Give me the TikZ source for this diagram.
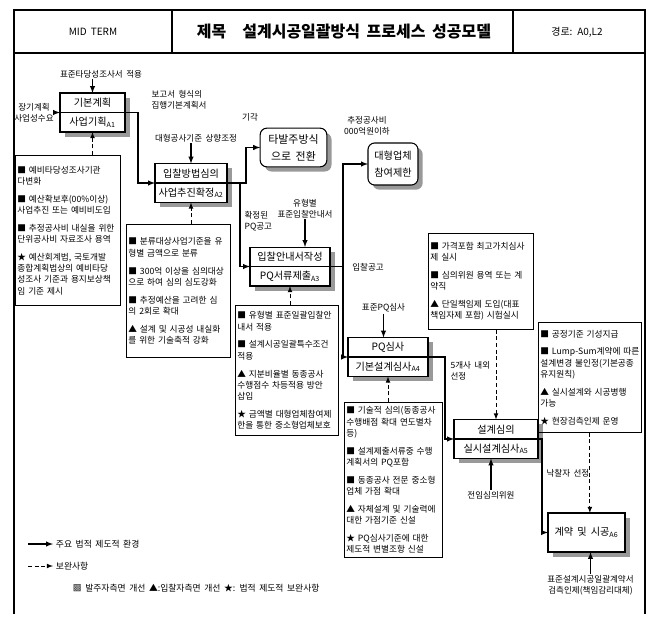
\documentclass[tikz,border=0pt]{standalone}
\usepackage{fontspec}
\setmainfont[WordSpace=1.8]{Noto Sans CJK KR}
\usetikzlibrary{arrows,positioning,shadows}

\newcommand{\procfnt}{\fontsize{7.6}{9}\selectfont}
\newcommand{\notefnt}{\fontsize{6.5}{8.4}\selectfont}
\newcommand{\labfnt}{\fontsize{6.4}{8.2}\selectfont}

\tikzset{
  proc/.style={draw, fill=white, line width=0.8pt, outer sep=0pt, inner sep=1pt,
    minimum height=14.6pt, font=\procfnt,
    drop shadow={shadow xshift=3.5pt, shadow yshift=-3.5pt, fill=black!40, opacity=1}},
  rproc/.style={proc, rounded corners=5pt, align=center},
  note/.style={draw, line width=0.6pt, anchor=north west, align=left,
    inner xsep=1.5pt, inner ysep=2pt, font=\notefnt},
  lab/.style={font=\labfnt, align=center, inner sep=1pt},
  key/.style={font=\fontsize{6.6}{8}\selectfont, inner sep=2pt, anchor=west},
  flow/.style={->, line width=0.8pt},
  aux/.style={->, densely dashed, line width=0.6pt},
}

\begin{document}
\begin{tikzpicture}[x=0.75pt, y=-0.75pt, >=latex]
\useasboundingbox (0,0) rectangle (653,617);

% frame and header
\draw[line width=0.8pt] (14,614) -- (14,10) -- (645,10) -- (645,614);
\draw[line width=0.8pt] (14,53) -- (645,53);
\draw[line width=0.8pt] (172,10) -- (172,53) (513,10) -- (513,53);
\node[font=\fontsize{7.5}{9}\selectfont] (term) at (93,32) {MID TERM};
\node[font={\fontsize{12}{14}\selectfont\bfseries}] (title) at (344,32) {제목\quad 설계시공일괄방식 프로세스 성공모델};
\node[font=\fontsize{7.5}{9}\selectfont] (route) at (577,32) {경로: A0,L2};

% process boxes
\node[proc, minimum width=48.75pt, anchor=south] (a1) at (92.5,112.5) {기본계획};
\node[proc, minimum width=48.75pt, below=0pt of a1] (a1s) {사업기획\textsubscript{A1}};
\node[proc, minimum width=54pt, anchor=south] (a2) at (191,183) {입찰방법심의};
\node[proc, minimum width=54pt, below=0pt of a2] (a2s) {사업추진확정\textsubscript{A2}};
\node[proc, minimum width=60pt, anchor=south] (a3) at (290,266.5) {입찰안내서작성};
\node[proc, minimum width=60pt, below=0pt of a3] (a3s) {PQ서류제출\textsubscript{A3}};
\node[proc, minimum width=60pt, anchor=south] (pq) at (388,357) {PQ심사};
\node[proc, minimum width=60pt, below=0pt of pq] (pqs) {기본설계심사\textsubscript{A4}};
\node[proc, minimum width=63pt, anchor=south] (a5) at (496,439) {설계심의};
\node[proc, minimum width=63pt, below=0pt of a5] (a5s) {실시설계심사\textsubscript{A5}};
\node[proc, minimum width=57.75pt, minimum height=29.25pt] (a6) at (586.5,532.5) {계약 및 시공\textsubscript{A6}};

\node[rproc, minimum width=50pt, minimum height=29pt, font=\fontsize{8.2}{13}\selectfont] (tk) at (293.5,147.5) {타발주방식\\으로 전환};
\node[rproc, minimum width=37.5pt, minimum height=31.5pt, font=\fontsize{7.6}{13}\selectfont] (lim) at (393,164) {대형업체\\참여제한};

% notes
\node[note, text width=75.7pt, minimum height=112.5pt] (n1) at (15,155) {■ 예비타당성조사기관\\다변화\\[5pt]
■ 예산확보후(00\%이상)\\사업추진 또는 예비비도입\\[5pt]
■ 추정공사비 내실을 위한\\단위공사비 자료조사 용역\\[5pt]
★ 예산회계법, 국토개발\\종합계획법상의 예비타당\\성조사 기준과 용지보상책\\임 기준 제시};
\node[note, text width=75pt, minimum height=99.75pt] (n2) at (126,224) {■ 분류대상사업기준을 유\\형별 금액으로 분류\\[5pt]
■ 300억 이상을 심의대상\\으로 하여 심의 심도강화\\[5pt]
■ 추정예산을 고려한 심\\의 2회로 확대\\[5pt]
▲ 설계 및 시공성 내실화\\를 위한 기술축적 강화};
\node[note, text width=74.2pt, minimum height=97.5pt] (n3) at (235,305) {■ 유형별 표준일괄입찰안\\내서 적용\\[5pt]
■ 설계시공일괄특수조건\\적용\\[5pt]
▲ 지분비율별 동종공사\\수행점수 차등적용 방안\\삽입\\[5pt]
★ 금액별 대형업체참여제\\한을 통한 중소형업체보호};
\node[note, text width=70.5pt, minimum height=116.25pt] (n4) at (344,402) {■ 기술적 심의(동종공사\\수행배점 확대 연도별차\\등)\\[5pt]
■ 설계제출서류중 수행\\계획서의 PQ포함\\[5pt]
■ 동종공사 전문 중소형\\업체 가점 확대\\[5pt]
▲ 자체설계 및 기술력에\\대한 가점기준 신설\\[5pt]
★ PQ심사기준에 대한\\제도적 변별조항 신설};
\node[note, text width=75.7pt, minimum height=72pt] (n5) at (428,233) {■ 가격포함 최고가치심사\\제 실시\\[5pt]
■ 심의위원 용역 또는 계\\약직\\[5pt]
▲ 단일책임제 도입(대표\\책임자제 포함) 시험실시};
\node[note, text width=74.2pt, minimum height=82.5pt] (n6) at (538,322) {■ 공정기준 기성지급\\[5pt]
\mbox{■ Lump-Sum계약에 따른}\\설계변경 불인정(기본공종\\유지원칙)\\[5pt]
▲ 실시설계와 시공병행\\가능\\[5pt]
★ 현장검측인제 운영};

% labels
\node[lab] (tA1) at (101,74) {표준타당성조사서 적용};
\node[lab] (lA1) at (34,112.5) {장기계획\\사업성수요};
\node[lab, anchor=west, align=left] (rA1) at (150,99.5) {보고서 형식의\\집행기본계획서};
\node[lab] (tA2) at (196,138) {대형공사기준 상향조정};
\node[lab] (rej) at (250,117) {기각};
\node[lab, anchor=west, align=left] (okA2) at (243,221) {확정된\\PQ공고};
\node[lab] (tA3) at (305,208.5) {유형별\\표준입찰안내서};
\node[lab] (big) at (367,125.5) {추정공사비\\000억원이하};
\node[lab] (bid) at (368,267) {입찰공고};
\node[lab] (tPQ) at (383.5,308) {표준PQ심사};
\node[lab, anchor=west, align=left] (five) at (449,371) {5개사 내외\\선정};
\node[lab, anchor=west] (win) at (545,473) {낙찰자 선정};
\node[lab] (tA5) at (491,495) {전임심의위원};
\node[lab] (tA6) at (590.5,585) {표준설계시공일괄계약서\\검측인제(책임감리대체)};

% main flow
\coordinate (c1) at (138,112.5);
\coordinate (c2) at (246,183);
\coordinate (c2b) at (240,183);
\coordinate (c3) at (343,266.5);
\coordinate (c4) at (445,357);
\coordinate (c5) at (542,439);
\draw[flow] (tA1.south -| a1.north) -- (a1.north);
\draw[flow] (lA1.east) -- (a1.south west);
\draw[flow] (a1.south east) -- (c1) |- (a2.south west);
\draw[flow] (tA2.south -| a2.north) -- (a2.north);
\draw[flow] (a2.south east) -- (c2) |- (tk.west);
\draw[flow] (c2b) |- (a3.south west);
\draw[flow] (tA3.south) -- (tA3.south |- a3.north);
\draw[flow] (a3.south east) -- (c3) |- (lim.west);
\draw[flow] (c3) |- (pq.south west);
\draw[flow] (tPQ.south) -- (tPQ.south |- pq.north);
\draw[flow] (pq.south east) -- (c4) |- (a5.south west);
\draw[flow] (a5.south east) -- (c5) |- (a6.west);
\draw[flow] (tA5.north) -- (tA5.north |- a5s.south);
\draw[flow] (tA6.north) -- (tA6.north |- a6.south);

% notes to boxes
\draw[aux] (a1s.south |- n1.north) -- (a1s.south);
\draw[aux] (a2s.south |- n2.north) -- (a2s.south);
\draw[aux] (a3s.south |- n3.north) -- (a3s.south);
\draw[aux] (pqs.south |- n4.north) -- (pqs.south);
\draw[aux] (n5.south -| a5.north) -- (a5.north);
\draw[aux] (n6.south) -- (n6.south |- a6.north);

% legend
\coordinate (k1) at (28,544);
\coordinate (k2) at (28,566);
\node[key] (key1) at (53,544) {주요 법적 제도적 환경};
\node[key] (key2) at (53,566) {보완사항};
\node[key] (key3) at (70,588) {▩ 발주자측면 개선 ▲:입찰자측면 개선 ★: 법적 제도적 보완사항};
\draw[flow] (k1) -- (key1.west);
\draw[aux] (k2) -- (key2.west);
\end{tikzpicture}
\end{document}
